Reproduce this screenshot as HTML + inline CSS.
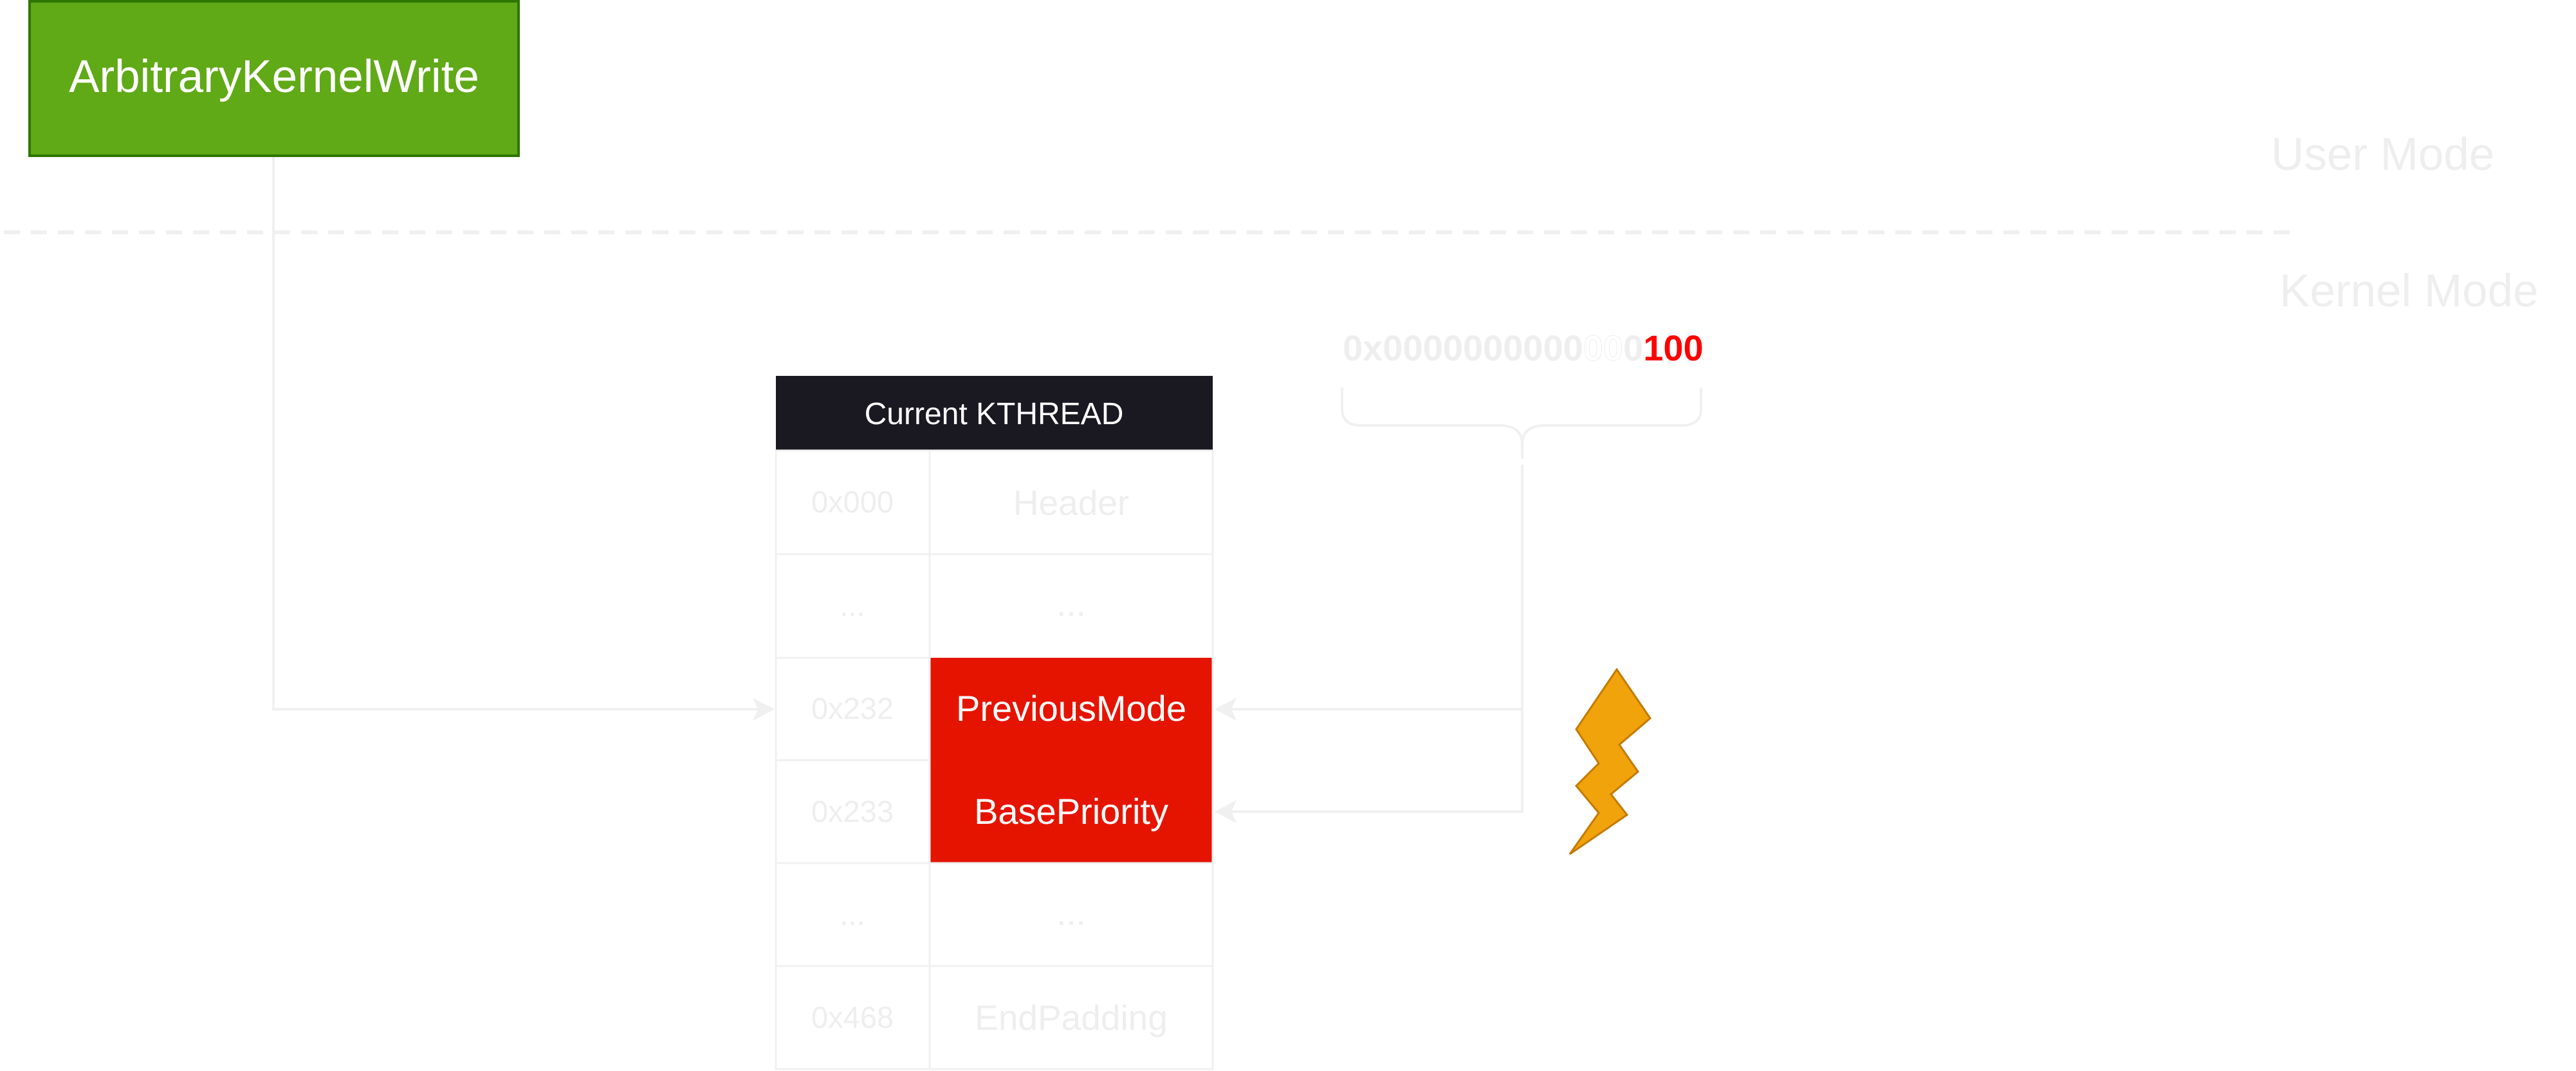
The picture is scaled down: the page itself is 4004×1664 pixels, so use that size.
<!DOCTYPE html>
<html><head><meta charset="utf-8"><style>
html,body{margin:0;padding:0;background:#fff;}
body{width:4004px;height:1664px;overflow:hidden;position:relative;}
svg{position:absolute;left:0;top:0;}
</style></head><body>
<svg width="4004" height="1664" viewBox="0 0 4004 1664" xmlns="http://www.w3.org/2000/svg" font-family="Liberation Sans, sans-serif">
<line x1="6" y1="361" x2="3560" y2="361" stroke="#f0f0f0" stroke-width="6" stroke-dasharray="25,17"/>
<polyline points="425,243 425,1102 1190,1102" fill="none" stroke="#f0f0f0" stroke-width="4"/>
<path d="M1204,1102 L1170,1084 L1178,1102 L1170,1120 Z" fill="#f0f0f0"/>
<rect x="46" y="2" width="760" height="240" fill="#60a917" stroke="#2d7600" stroke-width="4"/>
<text x="426" y="143" font-size="71" fill="#fff" text-anchor="middle">ArbitraryKernelWrite</text>
<rect x="1206" y="584" width="679" height="116" fill="#1a1820"/>
<text x="1545" y="659" font-size="48" fill="#fff" text-anchor="middle">Current KTHREAD</text>
<rect x="1445" y="1022" width="441" height="319" fill="#e51400"/>
<g stroke="#f0f0f0" stroke-width="3" fill="none">
<rect x="1206" y="700" width="679" height="961"/>
<line x1="1445" y1="700" x2="1445" y2="1661"/>
<line x1="1206" y1="861" x2="1885" y2="861"/>
<line x1="1206" y1="1022" x2="1445" y2="1022"/>
<line x1="1206" y1="1181" x2="1445" y2="1181"/>
<line x1="1206" y1="1341" x2="1885" y2="1341"/>
<line x1="1206" y1="1501" x2="1885" y2="1501"/>
</g>
<g font-size="47" fill="#eeeeee" text-anchor="middle">
<text x="1325" y="796">0x000</text>
<text x="1325" y="957">...</text>
<text x="1325" y="1117">0x232</text>
<text x="1325" y="1277">0x233</text>
<text x="1325" y="1437">...</text>
<text x="1325" y="1597">0x468</text>
</g>
<g font-size="55" fill="#eeeeee" text-anchor="middle">
<text x="1665" y="800">Header</text>
<text x="1665" y="957">...</text>
<text x="1665" y="1437">...</text>
<text x="1665" y="1600">EndPadding</text>
</g>
<g font-size="56" fill="#fff" text-anchor="middle">
<text x="1665" y="1120">PreviousMode</text>
<text x="1665" y="1280">BasePriority</text>
</g>
<text x="2087" y="560" font-size="56" font-weight="bold" fill="#eeeeee">0x0000000000<tspan fill="#fff" stroke="#eeeeee" stroke-width="1">00</tspan>0<tspan fill="#ff0000">100</tspan></text>
<path d="M2086,602 L2086,635 Q2086,661 2116,661 L2330,661 Q2366,661 2366,690 Q2366,661 2402,661 L2614,661 Q2644,661 2644,635 L2644,602" fill="none" stroke="#f0f0f0" stroke-width="4"/>
<line x1="2366" y1="690" x2="2366" y2="713" stroke="#f0f0f0" stroke-width="4"/>
<polyline points="2366,722 2366,1261 1900,1261" fill="none" stroke="#f0f0f0" stroke-width="4"/>
<line x1="2366" y1="1102" x2="1900" y2="1102" stroke="#f0f0f0" stroke-width="4"/>
<path d="M1888,1102 L1922,1084 L1914,1102 L1922,1120 Z" fill="#f0f0f0"/>
<path d="M1888,1261 L1922,1243 L1914,1261 L1922,1279 Z" fill="#f0f0f0"/>
<polygon points="2513,1040 2565,1116 2517,1157 2546,1199 2504,1234 2529,1266 2440,1327 2485,1263 2450,1221 2485,1186 2450,1133" fill="#f0a30a" stroke="#c47a00" stroke-width="3"/>
<text x="3530" y="264" font-size="71" fill="#eeeeee">User Mode</text>
<text x="3543" y="476" font-size="71" fill="#eeeeee">Kernel Mode</text>
</svg>
</body></html>
